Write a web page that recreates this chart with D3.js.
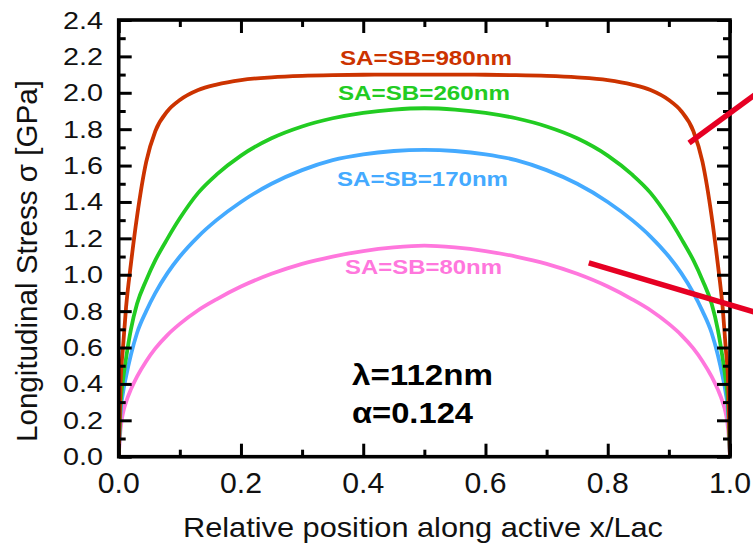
<!DOCTYPE html>
<html>
<head>
<meta charset="utf-8">
<script src="https://cdn.jsdelivr.net/npm/d3@7"></script>
<style>
  html, body { margin: 0; padding: 0; background: #fff; }
  svg { display: block; font-family: "Liberation Sans", Arial, sans-serif; }
</style>
</head>
<body>
<svg id="chart" width="753" height="546"></svg>
<script>
// ---- data ----
const xPositions = [0, 0.003, 0.007, 0.012, 0.02, 0.03, 0.045, 0.06, 0.08, 0.1, 0.13, 0.16, 0.2, 0.25, 0.3, 0.35, 0.4, 0.45, 0.5,
                    0.55, 0.6, 0.65, 0.7, 0.75, 0.8, 0.84, 0.87, 0.9, 0.92, 0.94, 0.955, 0.97, 0.98, 0.988, 0.993, 0.997, 1];
const stress980 = [0, 0.4, 0.6, 0.82, 1.06, 1.32, 1.62, 1.79, 1.9, 1.96, 2.015, 2.045, 2.07, 2.085, 2.093, 2.097, 2.099, 2.1, 2.1,
                   2.1, 2.099, 2.097, 2.093, 2.085, 2.07, 2.045, 2.015, 1.96, 1.9, 1.79, 1.62, 1.32, 1.06, 0.82, 0.6, 0.4, 0];
const stress260 = [0, 0.28, 0.42, 0.54, 0.7, 0.84, 0.97, 1.08, 1.2, 1.31, 1.45, 1.55, 1.655, 1.75, 1.815, 1.86, 1.89, 1.908, 1.915,
                   1.908, 1.89, 1.86, 1.815, 1.75, 1.655, 1.55, 1.45, 1.31, 1.2, 1.08, 0.97, 0.84, 0.7, 0.54, 0.42, 0.28, 0];
const stress170 = [0, 0.24, 0.35, 0.44, 0.56, 0.68, 0.8, 0.9, 1.01, 1.1, 1.21, 1.3, 1.4, 1.5, 1.575, 1.63, 1.662, 1.68, 1.686,
                   1.68, 1.662, 1.63, 1.575, 1.5, 1.4, 1.3, 1.21, 1.1, 1.01, 0.9, 0.8, 0.68, 0.56, 0.44, 0.35, 0.24, 0];
const stress80  = [0, 0.15, 0.24, 0.3, 0.37, 0.44, 0.525, 0.595, 0.67, 0.73, 0.805, 0.865, 0.935, 1.005, 1.06, 1.1, 1.13, 1.15, 1.16,
                   1.15, 1.13, 1.1, 1.06, 1.005, 0.935, 0.865, 0.805, 0.73, 0.67, 0.595, 0.525, 0.44, 0.37, 0.3, 0.24, 0.15, 0];
const seriesNames  = ["SA=SB=980nm", "SA=SB=260nm", "SA=SB=170nm", "SA=SB=80nm"];
const seriesColors = ["#cc3300", "#22cc22", "#44aaff", "#ff77dd"];
const xTicks = [0, 0.2, 0.4, 0.6, 0.8, 1.0];
const yTicks = [0, 0.2, 0.4, 0.6, 0.8, 1.0, 1.2, 1.4, 1.6, 1.8, 2.0, 2.2, 2.4];
const paramLabels = ["λ=112nm", "α=0.124"];
// annotation pointer lines (data units, extend past the frame)
const pointerLines = [[[0.933, 1.724], [1.045, 2.0]], [[0.769, 1.065], [1.045, 0.79]]];

// ---- layout ----
const svg = d3.select("#chart");
const W = 753, H = 546;
const m = { left: 118.7, right: 23, top: 20, bottom: 89.3 };
const x = d3.scaleLinear().domain([0, 1]).range([m.left, W - m.right]);
const y = d3.scaleLinear().domain([0, 2.4]).range([H - m.bottom, m.top]);

const series = [stress980, stress260, stress170, stress80];
const line = d3.line().x((d, i) => x(xPositions[i])).y(d => y(d)).curve(d3.curveMonotoneX);

const plot = svg.append("g");
plot.append("clipPath").attr("id", "clip").append("rect")
  .attr("x", m.left).attr("y", m.top).attr("width", x(1) - m.left).attr("height", y(0) - m.top);

// draw order: pink, blue, green, red (red on top)
[3, 2, 1, 0].forEach(k => {
  plot.append("path").datum(series[k])
    .attr("d", line)
    .attr("fill", "none")
    .attr("stroke", seriesColors[k])
    .attr("stroke-width", 3.8)
    .attr("stroke-linejoin", "round")
    .attr("clip-path", "url(#clip)");
});

// ---- axes ----
const majorLen = 13, minorLen = 7;
const minorX = d3.range(0.1, 1, 0.2);
const minorY = d3.range(0.1, 2.4, 0.2);

function styleAxis(g) {
  g.select(".domain").remove();
  g.selectAll(".tick line").attr("stroke", "#000").attr("stroke-width", 3);
  g.selectAll("text").remove();
}
// bottom
svg.append("g").attr("transform", `translate(0,${y(0)})`)
  .call(d3.axisBottom(x).tickValues(xTicks).tickSizeInner(-majorLen).tickSizeOuter(0)).call(styleAxis);
svg.append("g").attr("transform", `translate(0,${y(0)})`)
  .call(d3.axisBottom(x).tickValues(minorX).tickSizeInner(-minorLen).tickSizeOuter(0)).call(styleAxis);
// top
svg.append("g").attr("transform", `translate(0,${y(2.4)})`)
  .call(d3.axisTop(x).tickValues(xTicks).tickSizeInner(-majorLen).tickSizeOuter(0)).call(styleAxis);
svg.append("g").attr("transform", `translate(0,${y(2.4)})`)
  .call(d3.axisTop(x).tickValues(minorX).tickSizeInner(-minorLen).tickSizeOuter(0)).call(styleAxis);
// left
svg.append("g").attr("transform", `translate(${x(0)},0)`)
  .call(d3.axisLeft(y).tickValues(yTicks).tickSizeInner(-majorLen).tickSizeOuter(0)).call(styleAxis);
svg.append("g").attr("transform", `translate(${x(0)},0)`)
  .call(d3.axisLeft(y).tickValues(minorY).tickSizeInner(-minorLen).tickSizeOuter(0)).call(styleAxis);
// right
svg.append("g").attr("transform", `translate(${x(1)},0)`)
  .call(d3.axisRight(y).tickValues(yTicks).tickSizeInner(-majorLen).tickSizeOuter(0)).call(styleAxis);
svg.append("g").attr("transform", `translate(${x(1)},0)`)
  .call(d3.axisRight(y).tickValues(minorY).tickSizeInner(-minorLen).tickSizeOuter(0)).call(styleAxis);

// frame
svg.append("rect")
  .attr("x", x(0)).attr("y", y(2.4)).attr("width", x(1) - x(0)).attr("height", y(0) - y(2.4))
  .attr("fill", "none").attr("stroke", "#000").attr("stroke-width", 3.6);

// tick labels
svg.append("g").selectAll("text").data(xTicks).join("text")
  .attr("x", d => x(d)).attr("y", 493)
  .attr("text-anchor", "middle").attr("font-size", 29).attr("fill", "#111")
  .attr("textLength", 42).attr("lengthAdjust", "spacingAndGlyphs")
  .text(d => d.toFixed(1));
svg.append("g").selectAll("text").data(yTicks).join("text")
  .attr("x", 103).attr("y", d => y(d) + 8.5)
  .attr("text-anchor", "end").attr("font-size", 24).attr("fill", "#111")
  .attr("textLength", 40).attr("lengthAdjust", "spacingAndGlyphs")
  .text(d => d.toFixed(1));

// axis titles
svg.append("text")
  .attr("x", 423).attr("y", 537).attr("text-anchor", "middle")
  .attr("font-size", 28).attr("fill", "#111")
  .attr("textLength", 480).attr("lengthAdjust", "spacingAndGlyphs")
  .text("Relative position along active x/Lac");
svg.append("text")
  .attr("transform", "translate(37,261) rotate(-90)")
  .attr("text-anchor", "middle")
  .attr("font-size", 29).attr("fill", "#111")
  .attr("textLength", 362).attr("lengthAdjust", "spacingAndGlyphs")
  .text("Longitudinal Stress σ [GPa]");

// series labels
const labelPos = [[426, 65, 172], [424, 100, 172], [422.5, 186, 171], [423.5, 274, 157]];
seriesNames.forEach((n, k) => {
  svg.append("text")
    .attr("x", labelPos[k][0]).attr("y", labelPos[k][1])
    .attr("text-anchor", "middle").attr("font-weight", "bold").attr("font-size", 21)
    .attr("fill", seriesColors[k])
    .attr("textLength", labelPos[k][2]).attr("lengthAdjust", "spacingAndGlyphs")
    .text(n);
});

// parameter labels
const paramPos = [[352, 385, 141], [352, 423, 121]];
paramLabels.forEach((t, k) => {
  svg.append("text")
    .attr("x", paramPos[k][0]).attr("y", paramPos[k][1])
    .attr("font-weight", "bold").attr("font-size", 30).attr("fill", "#000")
    .attr("textLength", paramPos[k][2]).attr("lengthAdjust", "spacingAndGlyphs")
    .text(t);
});

// red pointer lines
pointerLines.forEach(p => {
  svg.append("line")
    .attr("x1", x(p[0][0])).attr("y1", y(p[0][1]))
    .attr("x2", x(p[1][0])).attr("y2", y(p[1][1]))
    .attr("stroke", "#e60023").attr("stroke-width", 5.5);
});
</script>
</body>
</html>
